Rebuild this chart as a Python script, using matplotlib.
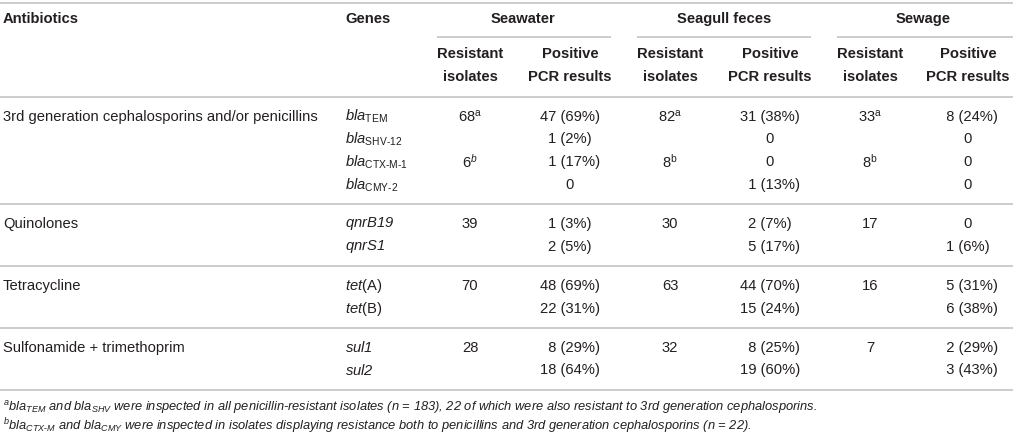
import matplotlib

matplotlib.use("Agg")
import matplotlib.pyplot as plt

plt.rcParams["font.family"] = ["Liberation Sans", "DejaVu Sans"]
plt.rcParams["mathtext.fontset"] = "custom"
plt.rcParams["mathtext.rm"] = "Liberation Sans"
plt.rcParams["mathtext.it"] = "Liberation Sans:italic"
plt.rcParams["mathtext.bf"] = "Liberation Sans:bold"
# \mathsf is used as a true italic (digits included)
plt.rcParams["mathtext.sf"] = "Liberation Sans:italic"

# ---- table content ----
antibiotics = [
    "3rd generation cephalosporins and/or penicillins",
    "Quinolones",
    "Tetracycline",
    "Sulfonamide + trimethoprim",
]
group_sizes = [4, 2, 2, 2]
genes = [
    r"$\mathsf{bla}_{\text{TEM}}$",
    r"$\mathsf{bla}_{\text{SHV-12}}$",
    r"$\mathsf{bla}_{\text{CTX-M-1}}$",
    r"$\mathsf{bla}_{\text{CMY-2}}$",
    r"$\mathsf{qnrB19}$",
    r"$\mathsf{qnrS1}$",
    r"$\mathsf{tet}$(A)",
    r"$\mathsf{tet}$(B)",
    r"$\mathsf{sul1}$",
    r"$\mathsf{sul2}$",
]
sites = ["Seawater", "Seagull feces", "Sewage"]

sea_resistant = [68, None, 6, None, 39, None, 70, None, 28, None]
sea_notes = [r"\mathrm{a}", "", r"\mathsf{b}", "", "", "", "", "", "", ""]
sea_positive = [47, 1, 1, 0, 1, 2, 48, 22, 8, 18]
sea_pct = [69, 2, 17, None, 3, 5, 69, 31, 29, 64]

gull_resistant = [82, None, 8, None, 30, None, 63, None, 32, None]
gull_notes = [r"\mathrm{a}", "", r"\mathrm{b}", "", "", "", "", "", "", ""]
gull_positive = [31, 0, 0, 1, 2, 5, 44, 15, 8, 19]
gull_pct = [38, None, None, 13, 7, 17, 70, 24, 25, 60]

sew_resistant = [33, None, 8, None, 17, None, 16, None, 7, None]
sew_notes = [r"\mathrm{a}", "", r"\mathrm{b}", "", "", "", "", "", "", ""]
sew_positive = [8, 0, 0, 0, 0, 1, 5, 6, 2, 3]
sew_pct = [24, None, None, None, None, 6, 31, 38, 29, 43]

footnotes = [
    r"$^{\mathsf{a}}\mathsf{bla}_{\mathsf{TEM}}$ and $\mathsf{bla}_{\mathsf{SHV}}$ were inspected in all "
    r"penicillin-resistant isolates (n = 183), 22 of which were also resistant to 3rd generation cephalosporins.",
    r"$^{\mathsf{b}}\mathsf{bla}_{\mathsf{CTX}\text{-}\mathsf{M}}$ and $\mathsf{bla}_{\mathsf{CMY}}$ were inspected "
    r"in isolates displaying resistance both to penicillins and 3rd generation cephalosporins (n = 22).",
]

site_data = [
    (sea_resistant, sea_notes, sea_positive, sea_pct),
    (gull_resistant, gull_notes, gull_positive, gull_pct),
    (sew_resistant, sew_notes, sew_positive, sew_pct),
]

# ---- layout ----
W, H = 1013, 438
TXT = "#231f20"
RULE = "#c4c4c4"
FS = 10.6
FS_NOTE = 9.3

x_anti, x_gene = 3, 345
res_x = [470, 670, 870]
pos_x = [570, 770, 968]
site_x = [523, 724, 923]
spans = [(437, 611), (637, 811), (837, W)]


def fmt_resistant(n, note):
    if n is None:
        return ""
    return f"{n}" + (f"$^{{{note}}}$" if note else "")


def fmt_positive(n, pct):
    if pct is None:
        return f"{n}"
    lead = "\u2007" if (n < 10 and pct >= 10) else ""
    return f"{lead}{n} ({pct}%)"


fig = plt.figure(figsize=(W / 100, H / 100), dpi=100)
ax = fig.add_axes([0, 0, 1, 1])
ax.set_xlim(0, W)
ax.set_ylim(H, 0)
ax.axis("off")


def hline(y, x0=0, x1=W):
    ax.plot([x0, x1], [y, y], color=RULE, lw=1.2, solid_capstyle="butt")


def txt(x, y, s, ha="left", **kw):
    kw.setdefault("fontsize", FS)
    ax.text(x, y, s, ha=ha, va="center", color=TXT, **kw)


# header
hline(3)
txt(x_anti, 19, "Antibiotics", weight="bold")
txt(x_gene, 19, "Genes", weight="bold")
for i, site in enumerate(sites):
    txt(site_x[i], 19, site, ha="center", weight="bold")
    hline(37, *spans[i])
    txt(res_x[i], 54, "Resistant", ha="center", weight="bold")
    txt(res_x[i], 77, "isolates", ha="center", weight="bold")
    txt(pos_x[i], 54, "Positive", ha="center", weight="bold")
    txt(pos_x[i], 77, "PCR results", ha="center", weight="bold")
hline(97)

# body
row_step = 22.8
y_line = 97
r = 0
for anti, size in zip(antibiotics, group_sizes):
    y = y_line + 19.5
    txt(x_anti, y, anti)
    for k in range(size):
        yy = y + k * row_step
        txt(x_gene, yy, genes[r])
        for i, (res, notes, pos, pct) in enumerate(site_data):
            txt(res_x[i], yy, fmt_resistant(res[r], notes[r]), ha="center")
            txt(pos_x[i], yy, fmt_positive(pos[r], pct[r]), ha="center")
        r += 1
    y_line = y + (size - 1) * row_step + 19.5
    hline(y_line)

# footnotes
for j, note in enumerate(footnotes):
    txt(3, y_line + 18 + j * 18, note, style="italic", fontsize=FS_NOTE)

fig.savefig("out.png", dpi=100, facecolor="white")
